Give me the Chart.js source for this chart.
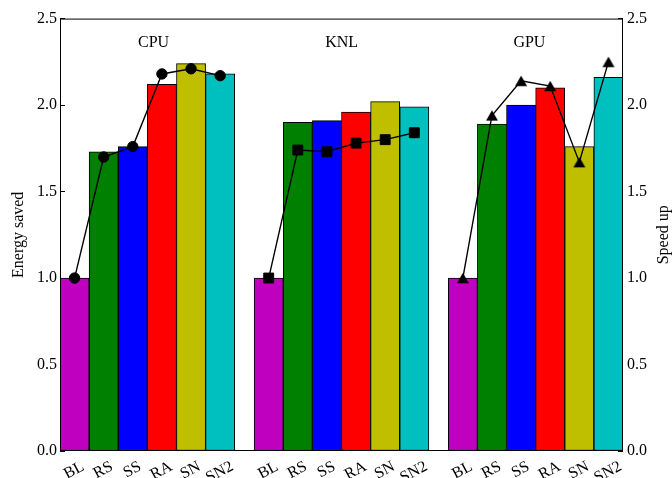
<!DOCTYPE html>
<html>
<head>
<meta charset="utf-8">
<script src="https://cdn.jsdelivr.net/npm/chart.js@4/dist/chart.umd.min.js"></script>
<style>
  html, body { margin: 0; padding: 0; background: #ffffff; }
  #wrap { width: 672px; height: 478px; }
</style>
</head>
<body>
<div id="wrap"><canvas id="chart" width="672" height="478"></canvas></div>
<script>
// Methods and platforms
const categories = ['BL', 'RS', 'SS', 'RA', 'SN', 'SN2'];
const platforms = ['CPU', 'KNL', 'GPU'];

// Energy saved (bars, left axis)
const energyCPU = [1.00, 1.73, 1.76, 2.12, 2.24, 2.18];
const energyKNL = [1.00, 1.90, 1.91, 1.96, 2.02, 1.99];
const energyGPU = [1.00, 1.89, 2.00, 2.10, 1.76, 2.16];

// Speed up (lines, right axis)
const speedupCPU = [1.00, 1.70, 1.76, 2.18, 2.21, 2.17];
const speedupKNL = [1.00, 1.74, 1.73, 1.78, 1.80, 1.84];
const speedupGPU = [1.00, 1.94, 2.14, 2.11, 1.67, 2.25];

// Tick labels shared by both value axes
const yTickLabels = ['0.0', '0.5', '1.0', '1.5', '2.0', '2.5'];

const barColors = ['#bf00bf', '#008000', '#0000ff', '#ff0000', '#bfbf00', '#00bfbf'];

const BAR_W = 0.15;               // bar width in x units; each platform group spans 0.9
const SERIF = '"Liberation Serif", "Times New Roman", serif';
const energy = [energyCPU, energyKNL, energyGPU];
const speedup = [speedupCPU, speedupKNL, speedupGPU];
const xOf = (g, i) => g + i * BAR_W + BAR_W / 2;

const barData = [];
const barFill = [];
energy.forEach((vals, g) => vals.forEach((v, i) => {
  barData.push({ x: xOf(g, i), y: v });
  barFill.push(barColors[i]);
}));
const barCenters = barData.map(p => p.x);

// Triangle marker centred on its bounding box
function triangleMarker() {
  const c = document.createElement('canvas');
  c.width = 14; c.height = 12;
  const t = c.getContext('2d');
  t.beginPath();
  t.moveTo(7, 0.75);
  t.lineTo(13, 11.25);
  t.lineTo(1, 11.25);
  t.closePath();
  t.fillStyle = '#000';
  t.fill();
  return c;
}
const markerStyles = ['circle', 'rect', triangleMarker()];
const markerRadius = [5.2, 7, 6];

const lineSets = speedup.map((vals, g) => ({
  type: 'line',
  label: platforms[g] + ' speed up',
  yAxisID: 'y2',
  order: 0,
  data: vals.map((v, i) => ({ x: xOf(g, i), y: v })),
  borderColor: '#000',
  borderWidth: 1.4,
  pointStyle: markerStyles[g],
  pointRadius: markerRadius[g],
  pointBackgroundColor: '#000',
  pointBorderColor: '#000',
  pointBorderWidth: 1,
  tension: 0,
  fill: false
}));

// Frame, rotated method labels, platform titles and axis titles
const decor = {
  id: 'decor',
  afterDraw(chart) {
    const { ctx, chartArea: a, scales: { x } } = chart;
    ctx.save();
    ctx.strokeStyle = '#000';
    ctx.lineWidth = 1;
    ctx.strokeRect(a.left + 0.5, a.top + 0.5, a.right - a.left - 1, a.bottom - a.top - 1);

    ctx.fillStyle = '#000';

    // method labels under each bar
    const fs = 16;
    const ang = 28 * Math.PI / 180;
    const capH = fs * 0.66;
    ctx.font = fs + 'px ' + SERIF;
    ctx.textAlign = 'center';
    ctx.textBaseline = 'alphabetic';
    barData.forEach((p, k) => {
      const label = categories[k % categories.length];
      const w = ctx.measureText(label).width;
      const boxH = w * Math.sin(ang) + capH * Math.cos(ang);
      const cx = x.getPixelForValue(p.x) - 1;
      const cy = a.bottom + 9 + boxH / 2;
      ctx.save();
      ctx.translate(cx, cy);
      ctx.rotate(-ang);
      ctx.fillText(label, 0, capH / 2);
      ctx.restore();
    });

    // platform titles
    const titleAt = [0.482, 1.451, 2.418];
    ctx.font = '16px ' + SERIF;
    platforms.forEach((name, g) => {
      ctx.fillText(name, x.getPixelForValue(titleAt[g]), a.top + 28.5);
    });

    // axis titles, reading bottom to top
    const midY = (a.top + a.bottom) / 2;
    [['Energy saved', 22.5], ['Speed up', 668]].forEach(([txt, bx]) => {
      ctx.save();
      ctx.translate(bx, midY);
      ctx.rotate(-Math.PI / 2);
      ctx.fillText(txt, 0, 0);
      ctx.restore();
    });
    ctx.restore();
  }
};

const valueAxis = (position, width, pad) => ({
  type: 'linear',
  position,
  min: 0,
  max: 2.5,
  ticks: {
    stepSize: 0.5,
    callback: (v, i) => yTickLabels[i],
    font: { family: SERIF, size: 16 },
    color: '#000',
    padding: pad
  },
  grid: { drawOnChartArea: false, drawTicks: true, tickLength: -5, color: '#000', lineWidth: 1 },
  border: { display: false },
  afterFit: s => { s.width = width; }
});

new Chart(document.getElementById('chart'), {
  type: 'bar',
  data: {
    datasets: [
      {
        type: 'bar',
        label: 'Energy saved',
        yAxisID: 'y',
        order: 1,
        data: barData,
        backgroundColor: barFill,
        borderColor: '#000',
        borderWidth: 1,
        borderSkipped: false,
        categoryPercentage: 1,
        barPercentage: 1
      },
      ...lineSets
    ]
  },
  options: {
    responsive: false,
    devicePixelRatio: 1,
    animation: false,
    layout: { padding: { top: 15, left: 0, right: 0, bottom: 0 } },
    plugins: { legend: { display: false }, tooltip: { enabled: false } },
    scales: {
      x: {
        type: 'linear',
        min: 0,
        max: 2.9,
        offset: false,
        ticks: { display: false },
        grid: { display: false },
        border: { display: false },
        afterBuildTicks: s => { s.ticks = barCenters.map(v => ({ value: v })); },
        afterFit: s => { s.height = 27; }
      },
      y: valueAxis('left', 60, 8),
      y2: valueAxis('right', 49, 9)
    }
  },
  plugins: [decor]
});
</script>
</body>
</html>
